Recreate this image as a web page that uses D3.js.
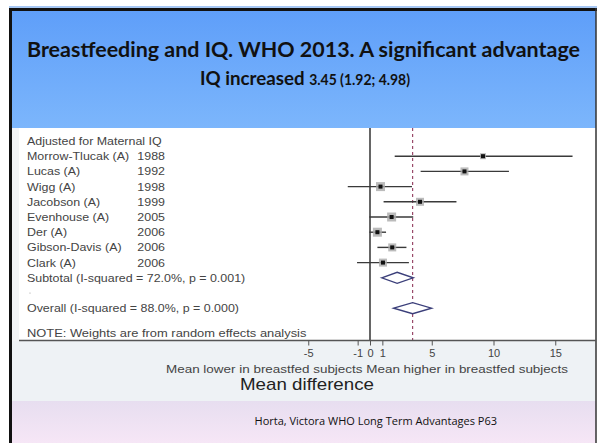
<!DOCTYPE html>
<html><head><meta charset="utf-8">
<script src="https://cdn.jsdelivr.net/npm/d3@7"></script>
<style>html,body{margin:0;padding:0;background:#fff;}svg{display:block;}</style>
</head><body>
<svg id="c" width="598" height="443"></svg>
<script>
// ---- data ----
const studies = ["Morrow-Tlucak (A)", "Lucas (A)", "Wigg (A)", "Jacobson (A)", "Evenhouse (A)", "Der (A)", "Gibson-Davis (A)", "Clark (A)"];
const years = ["1988", "1992", "1998", "1999", "2005", "2006", "2006", "2006"];
const estimates = [9.15, 7.65, 0.85, 4.05, 1.75, 0.6, 1.8, 1.05];
const lowerCI = [2.0, 4.1, -1.8, 1.1, -0.05, -0.05, 0.6, -1.05];
const upperCI = [16.4, 11.25, 3.4, 7.0, 3.5, 1.3, 2.95, 3.15];
const weights = [6, 8, 9, 8, 9, 9, 8, 8];
const subtotal = {label: "Subtotal  (I-squared = 72.0%, p = 0.001)", est: 2.2, lo: 0.95, hi: 3.5};
const overall = {label: "Overall  (I-squared = 88.0%, p = 0.000)", est: 3.45, lo: 1.92, hi: 4.98};
const tickValues = [-5, -1, 0, 1, 5, 10, 15];
const tickLabels = ["-5", "-1", "0", "1", "5", "10", "15"];

const svg = d3.select("#c");
const W = 598, H = 443;

function stretch(sel, k){
  sel.each(function(){
    const w = this.getComputedTextLength();
    d3.select(this).attr("textLength", w*k).attr("lengthAdjust","spacingAndGlyphs");
  });
  return sel;
}

// ---- slide background ----
const defs = svg.append("defs");
const g1 = defs.append("linearGradient").attr("id","hdr").attr("x1",0).attr("y1",0).attr("x2",0).attr("y2",1);
g1.append("stop").attr("offset","0%").attr("stop-color","#5e9ef9");
g1.append("stop").attr("offset","100%").attr("stop-color","#7cb6fc");
const g2 = defs.append("linearGradient").attr("id","ftr").attr("x1",0).attr("y1",0).attr("x2",0).attr("y2",1);
g2.append("stop").attr("offset","0%").attr("stop-color","#e7def0");
g2.append("stop").attr("offset","100%").attr("stop-color","#f6e6f6");

svg.append("rect").attr("x",0).attr("y",0).attr("width",W).attr("height",H).attr("fill","#ffffff");
svg.append("rect").attr("x",10).attr("y",8).attr("width",586).attr("height",120).attr("fill","url(#hdr)");
svg.append("rect").attr("x",10).attr("y",128).attr("width",586).attr("height",213).attr("fill","#ffffff");
svg.append("rect").attr("x",10).attr("y",128).attr("width",9).attr("height",213).attr("fill","#f2f4f6");
svg.append("rect").attr("x",10).attr("y",341).attr("width",586).attr("height",60).attr("fill","#eef2f5");
svg.append("rect").attr("x",10).attr("y",401).attr("width",586).attr("height",42).attr("fill","url(#ftr)");
// frame
svg.append("line").attr("x1",9).attr("x2",597).attr("y1",7).attr("y2",7).attr("stroke","#4f8fe8").attr("stroke-width",1);
svg.append("line").attr("x1",9).attr("x2",597).attr("y1",9.5).attr("y2",9.5).attr("stroke","#111").attr("stroke-width",3);
svg.append("line").attr("x1",10.5).attr("x2",10.5).attr("y1",8).attr("y2",H).attr("stroke","#111").attr("stroke-width",3);
svg.append("line").attr("x1",596).attr("x2",596).attr("y1",8).attr("y2",H).attr("stroke","#333").attr("stroke-width",1.5);

// ---- title ----
const tf = "Lato, 'Open Sans', sans-serif";
svg.append("text").attr("x",303.5).attr("y",57).attr("text-anchor","middle")
  .attr("font-family",tf).attr("font-weight","bold").attr("font-size",20.5).attr("fill","#111")
  .attr("textLength",553).attr("lengthAdjust","spacingAndGlyphs")
  .text("Breastfeeding and IQ. WHO 2013. A significant advantage");
const t2 = svg.append("text").attr("x",305).attr("y",85).attr("text-anchor","middle")
  .attr("font-family",tf).attr("font-weight","bold").attr("fill","#111")
  .attr("textLength",210).attr("lengthAdjust","spacingAndGlyphs");
t2.append("tspan").attr("font-size",19.5).text("IQ increased ");
t2.append("tspan").attr("font-size",14.5).text("3.45 (1.92; 4.98)");

// ---- forest plot ----
const x = d3.scaleLinear().domain([0, 10]).range([370, 493.5]);
const rowY = d3.scaleLinear().domain([0, 1]).range([141, 156.2]);
const af = "'Liberation Sans', Arial, sans-serif";
const tc = "#444";
const fs = 11.5, k = 1.08;

svg.append("line").attr("x1",x(0)).attr("x2",x(0)).attr("y1",128).attr("y2",341)
  .attr("stroke","#555").attr("stroke-width",1.8);
svg.append("line").attr("x1",x(overall.est)).attr("x2",x(overall.est)).attr("y1",128).attr("y2",341)
  .attr("stroke","#9a4a6a").attr("stroke-width",1.2).attr("stroke-dasharray","3,3");

function label(txt, xx, y, anchor){
  return stretch(svg.append("text").attr("x",xx).attr("y",y).attr("text-anchor",anchor||"start")
    .attr("font-family",af).attr("font-size",fs).attr("fill",tc).text(txt), k);
}

label("Adjusted for Maternal IQ", 27, rowY(0)+4);

studies.forEach((s,i)=>{
  const y = rowY(i+1);
  label(s, 27, y+4);
  label(years[i], 165, y+4, "end");
  svg.append("line").attr("x1",x(lowerCI[i])).attr("x2",x(upperCI[i])).attr("y1",y).attr("y2",y)
    .attr("stroke","#3a3a3a").attr("stroke-width",1.4);
  const w = weights[i];
  svg.append("rect").attr("x",x(estimates[i])-w/2).attr("y",y-w/2).attr("width",w).attr("height",w)
    .attr("fill","#aaaaaa").attr("opacity",0.8);
  svg.append("rect").attr("x",x(estimates[i])-2).attr("y",y-2).attr("width",4).attr("height",4).attr("fill","#111");
});

function diamond(d, y){
  const h = 5.5;
  svg.append("path").attr("d",`M${x(d.lo)},${y} L${x(d.est)},${y-h} L${x(d.hi)},${y} L${x(d.est)},${y+h} Z`)
    .attr("fill","#fff").attr("stroke","#3b3f7a").attr("stroke-width",1.4);
  label(d.label, 27, y+4);
}
diamond(subtotal, rowY(9));
svg.append("circle").attr("cx",30).attr("cy",rowY(10)).attr("r",0.6).attr("fill","#999");
diamond(overall, rowY(11));

stretch(svg.append("text").attr("x",27).attr("y",rowY(12.6)+4).attr("font-family",af).attr("font-size",fs).attr("fill",tc)
  .text("NOTE: Weights are from random effects analysis"), 1.12);

// axis
svg.append("line").attr("x1",19).attr("x2",596).attr("y1",340.5).attr("y2",340.5).attr("stroke","#555").attr("stroke-width",1.4);
const axis = d3.axisBottom(x).tickValues(tickValues).tickFormat((d,i)=>tickLabels[i]).tickSize(5).tickPadding(4);
const ag = svg.append("g").attr("transform","translate(0,340.5)").call(axis);
ag.select(".domain").remove();
ag.selectAll(".tick line").attr("stroke","#555");
ag.selectAll(".tick text").attr("font-family",af).attr("font-size",11).attr("fill",tc);

svg.append("text").attr("x",367).attr("y",373).attr("text-anchor","middle").attr("font-family",af).attr("font-size",11.5).attr("fill",tc)
  .attr("textLength",402).attr("lengthAdjust","spacingAndGlyphs")
  .text("Mean lower in breastfed subjects  Mean higher in breastfed subjects");
svg.append("text").attr("x",307).attr("y",390).attr("text-anchor","middle").attr("font-family",af).attr("font-size",17).attr("fill","#222")
  .attr("textLength",134).attr("lengthAdjust","spacingAndGlyphs")
  .text("Mean difference");

// footer
svg.append("text").attr("x",497).attr("y",425).attr("text-anchor","end").attr("font-family","'Open Sans', sans-serif").attr("font-size",11).attr("fill","#111")
  .text("Horta, Victora WHO Long Term Advantages P63");
</script>
</body></html>
